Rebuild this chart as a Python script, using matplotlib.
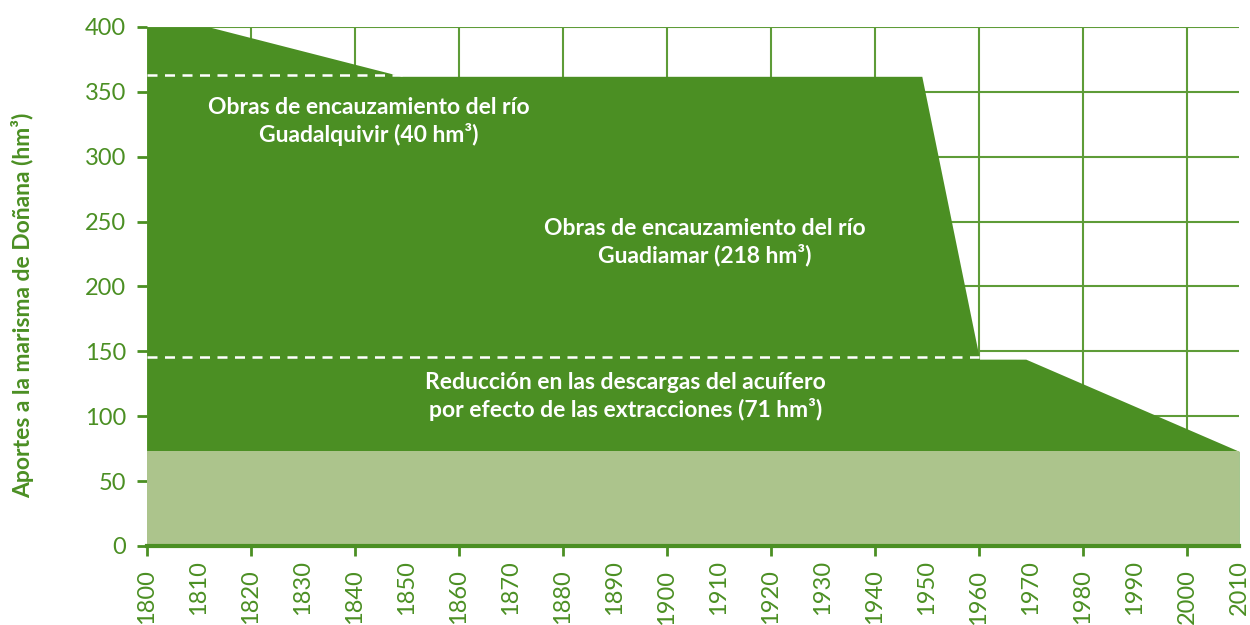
import matplotlib.pyplot as plt
import numpy as np

# datos
anios = [1800, 1812, 1849, 1949, 1960, 1960, 1969, 2010]
aportes = [400, 400, 362, 362, 146, 144, 144, 73]
anios_base = [1800, 2010]
aportes_base = [73, 73]
nivel_guadalquivir = 363
nivel_acuifero = 146

verde = '#4b8f23'
verde_claro = '#acc48c'

fig = plt.figure(figsize=(12.5, 6.25), dpi=100)
ax = fig.add_axes([0.1176, 0.1264, 0.8736, 0.8304])

# grid behind everything
ax.set_axisbelow(True)
ax.grid(True, which='major', color='#5e9c38', linewidth=1.5)

ax.fill_between(anios, 0, aportes, color=verde, linewidth=0, zorder=2)
ax.fill_between(anios_base, 0, aportes_base, color=verde_claro, linewidth=0, zorder=3)

# dashed white lines
ax.plot([1800, 1849], [nivel_guadalquivir] * 2, color='white', ls=(0, (4, 3)), lw=1.8, zorder=4)
ax.plot([1800, 1960], [nivel_acuifero] * 2, color='white', ls=(0, (4, 3)), lw=1.8, zorder=4)

txt = dict(color='white', fontsize=16.5, fontweight='bold', family='Lato',
           ha='center', va='center', linespacing=1.25, zorder=5)
ax.text(1842.7, 327, 'Obras de encauzamiento del río\nGuadalquivir (40 hm³)', **txt)
ax.text(1907.3, 234, 'Obras de encauzamiento del río\nGuadiamar (218 hm³)', **txt)
ax.text(1892, 115, 'Reducción en las descargas del acuífero\npor efecto de las extracciones (71 hm³)', **txt)

ax.set_xlim(1800, 2010)
ax.set_ylim(0, 400)

ax.set_yticks(np.arange(0, 401, 50))
ax.set_xticks(np.arange(1800, 2001, 20))
ax.set_xticks(np.arange(1810, 2011, 20), minor=True)
ax.set_xticklabels([str(a) for a in range(1800, 2001, 20)], rotation=90)
ax.set_xticklabels([str(a) for a in range(1810, 2011, 20)], minor=True, rotation=90)

ax.tick_params(axis='both', which='major', colors=verde, length=7, width=2,
               labelsize=17, labelcolor=verde)
ax.tick_params(axis='x', which='minor', length=0, labelsize=17, labelcolor=verde)
ax.tick_params(axis='y', pad=8)
ax.tick_params(axis='x', which='both', pad=10)
for lab in ax.get_xticklabels(which='both') + ax.get_yticklabels():
    lab.set_family('Lato')

for s in ['top', 'right', 'left']:
    ax.spines[s].set_visible(False)
ax.spines['bottom'].set_color(verde)
ax.spines['bottom'].set_linewidth(3)
ax.spines['bottom'].set_zorder(6)

fig.text(0.018, 0.512, 'Aportes a la marisma de Doñana (hm³)', rotation=90,
         color=verde, fontsize=16.5, fontweight='bold', family='Lato',
         ha='center', va='center')

fig.savefig('out.png', dpi=100)
